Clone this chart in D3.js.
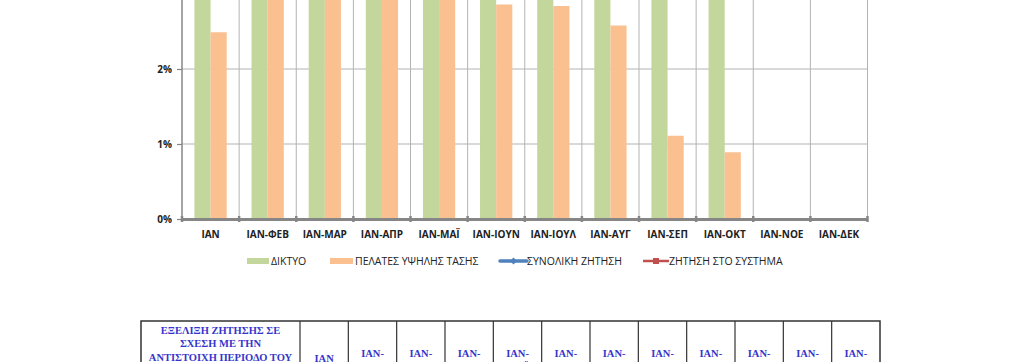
<!DOCTYPE html>
<html>
<head>
<meta charset="utf-8">
<script src="https://cdn.jsdelivr.net/npm/d3@7"></script>
<style>
  body { margin: 0; background: #fff; }
  svg { display: block; }
</style>
</head>
<body>
<svg id="chart"></svg>
<script>
const width = 1024;
const height = 362;

// categories and series (percent change vs same period of previous year)
const months = ["IAN", "IAN-ΦΕΒ", "IAN-ΜΑΡ", "IAN-ΑΠΡ", "IAN-ΜΑΪ", "IAN-ΙΟΥΝ",
    "IAN-ΙΟΥΛ", "IAN-ΑΥΓ", "IAN-ΣΕΠ", "IAN-ΟΚΤ", "IAN-ΝΟΕ", "IAN-ΔΕΚ"];
// green bars run past the top edge of the picture, only a floor can be read
const diktyo = [3.6, 3.5, 3.5, 3.4, 3.4, 3.3, 3.3, 3.2, 3.1, 3.0, null, null];
const ypsilisTasis = [2.49, 3.1, 3.1, 3.0, 3.0, 2.86, 2.84, 2.58, 1.11, 0.89, null, null];
// line series are outside the visible area
const synolikiZitisi = [3.5, 3.4, 3.4, 3.3, 3.3, 3.2, 3.2, 3.1, 3.0, 2.95, null, null];
const zitisiSystima = [3.7, 3.6, 3.6, 3.5, 3.5, 3.4, 3.4, 3.3, 3.2, 3.1, null, null];
const yTicks = [0, 1, 2];
const legendNames = ["ΔΙΚΤΥΟ", "ΠΕΛΑΤΕΣ ΥΨΗΛΗΣ ΤΑΣΗΣ", "ΣΥΝΟΛΙΚΗ ΖΗΤΗΣΗ", "ΖΗΤΗΣΗ ΣΤΟ ΣΥΣΤΗΜΑ"];
const tableTitle = ["ΕΞΕΛΙΞΗ ΖΗΤΗΣΗΣ ΣΕ", "ΣΧΕΣΗ ΜΕ ΤΗΝ", "ΑΝΤΙΣΤΟΙΧΗ ΠΕΡΙΟΔΟ ΤΟΥ"];

const green = "#c3d69b";
const orange = "#fac090";

const svg = d3.select("#chart")
    .attr("width", width)
    .attr("height", height);

// scales
const x = d3.scaleBand()
    .domain(months)
    .range([182, 867.5]);

const x1 = d3.scaleBand()
    .domain(["d", "y"])
    .range([0, x.bandwidth()])
    .paddingOuter(0.77);

const y = d3.scaleLinear()
    .domain([0, 1])
    .range([219, 144]);

// gridlines
svg.append("g")
    .selectAll("line")
    .data(yTicks.filter(d => d > 0))
    .enter()
    .append("line")
    .attr("x1", 182)
    .attr("x2", 867.5)
    .attr("y1", d => y(d))
    .attr("y2", d => y(d))
    .attr("stroke", "#b3b3b3")
    .attr("stroke-width", 1);

svg.append("g")
    .selectAll("line")
    .data(months)
    .enter()
    .append("line")
    .attr("x1", d => x(d) + x.bandwidth())
    .attr("x2", d => x(d) + x.bandwidth())
    .attr("y1", 0)
    .attr("y2", y(0))
    .attr("stroke", "#b3b3b3")
    .attr("stroke-width", 1);

// bars
const groups = svg.append("g")
    .selectAll("g")
    .data(months.map((m, i) => ({ m, d: diktyo[i], y: ypsilisTasis[i] })))
    .enter()
    .append("g")
    .attr("transform", d => `translate(${x(d.m)},0)`);

groups.filter(d => d.d != null)
    .append("rect")
    .attr("x", x1("d"))
    .attr("width", x1.bandwidth())
    .attr("y", d => y(d.d))
    .attr("height", d => y(0) - y(d.d))
    .attr("fill", green);

groups.filter(d => d.y != null)
    .append("rect")
    .attr("x", x1("y"))
    .attr("width", x1.bandwidth())
    .attr("y", d => y(d.y))
    .attr("height", d => y(0) - y(d.y))
    .attr("fill", orange);

// lines (above the visible window)
const line = d3.line()
    .defined(d => d.v != null)
    .x(d => x(d.m) + x.bandwidth() / 2)
    .y(d => y(d.v));

svg.append("path")
    .datum(months.map((m, i) => ({ m, v: synolikiZitisi[i] })))
    .attr("d", line)
    .attr("fill", "none")
    .attr("stroke", "#4f81bd")
    .attr("stroke-width", 2.5);

svg.append("path")
    .datum(months.map((m, i) => ({ m, v: zitisiSystima[i] })))
    .attr("d", line)
    .attr("fill", "none")
    .attr("stroke", "#c0504d")
    .attr("stroke-width", 2.5);

// y axis
const yAxis = svg.append("g")
    .attr("transform", "translate(182,0)")
    .call(d3.axisLeft(y).tickValues(yTicks).tickFormat(d => d + "%").tickSize(5).tickPadding(5));
yAxis.select(".domain").attr("d", `M0,0V${y(0)}`).attr("stroke", "#868686").attr("stroke-width", 1.5);
yAxis.selectAll(".tick line").attr("stroke", "#868686").attr("stroke-width", 1.2);
yAxis.selectAll(".tick text")
    .attr("font-family", "'Open Sans', sans-serif")
    .attr("font-size", 10)
    .attr("font-weight", "bold")
    .attr("fill", "#222");

// x axis
const xAxis = svg.append("g")
    .attr("transform", `translate(0,${y(0)})`)
    .call(d3.axisBottom(x).tickSize(0).tickPadding(12));
xAxis.select(".domain").attr("stroke", "#868686").attr("stroke-width", 3);
xAxis.selectAll(".tick text")
    .attr("font-family", "'Open Sans', sans-serif")
    .attr("font-size", 10)
    .attr("font-weight", "bold")
    .attr("fill", "#222");

// cross tick marks at the band edges
svg.append("g")
    .selectAll("line")
    .data([182].concat(months.map(m => x(m) + x.bandwidth())))
    .enter()
    .append("line")
    .attr("x1", d => d)
    .attr("x2", d => d)
    .attr("y1", y(0) - 3)
    .attr("y2", y(0) + 3)
    .attr("stroke", "#868686")
    .attr("stroke-width", 2.5);

// legend
const legendX = [247, 330, 500, 643];
const legend = svg.append("g")
    .attr("font-family", "'Liberation Sans Narrow', 'Open Sans', sans-serif")
    .attr("font-size", 10.5)
    .attr("fill", "#222");

legend.append("rect").attr("x", legendX[0]).attr("y", 258).attr("width", 22).attr("height", 6).attr("fill", green);
legend.append("rect").attr("x", legendX[1]).attr("y", 258).attr("width", 23).attr("height", 6).attr("fill", orange);
legend.append("line").attr("x1", legendX[2]).attr("x2", legendX[2] + 27).attr("y1", 261).attr("y2", 261)
    .attr("stroke", "#4f81bd").attr("stroke-width", 3.5).attr("stroke-linecap", "round");
legend.append("path").attr("d", `M${legendX[2] + 10},261l3.5,-3.5l3.5,3.5l-3.5,3.5z`).attr("fill", "#4f81bd");
legend.append("line").attr("x1", legendX[3]).attr("x2", legendX[3] + 26).attr("y1", 261).attr("y2", 261)
    .attr("stroke", "#c0504d").attr("stroke-width", 2.5);
legend.append("rect").attr("x", legendX[3] + 10).attr("y", 258).attr("width", 6).attr("height", 6).attr("fill", "#c0504d");

const legendTextX = [271, 355, 527, 669];
legend.selectAll("text")
    .data(legendNames)
    .enter()
    .append("text")
    .attr("x", (d, i) => legendTextX[i])
    .attr("y", 264.5)
    .text(d => d);

// table below the chart
const tableLeft = 141;
const tableTop = 321;
const col0 = 300;
const colW = (880 - col0) / months.length;
const tbl = svg.append("g");

tbl.append("rect")
    .attr("x", tableLeft)
    .attr("y", tableTop)
    .attr("width", 880 - tableLeft)
    .attr("height", 80)
    .attr("fill", "none")
    .attr("stroke", "#333")
    .attr("stroke-width", 1.5);

tbl.selectAll("line.col")
    .data(months)
    .enter()
    .append("line")
    .attr("class", "col")
    .attr("x1", (d, i) => col0 + i * colW)
    .attr("x2", (d, i) => col0 + i * colW)
    .attr("y1", tableTop)
    .attr("y2", height)
    .attr("stroke", "#333")
    .attr("stroke-width", 1.2);

const tblText = tbl.append("g")
    .attr("font-family", "'Liberation Serif', serif")
    .attr("font-weight", "bold")
    .attr("font-size", 10.5)
    .attr("fill", "#3535cc")
    .attr("text-anchor", "middle");

tblText.selectAll("text.title")
    .data(tableTitle)
    .enter()
    .append("text")
    .attr("class", "title")
    .attr("x", (tableLeft + col0) / 2)
    .attr("y", (d, i) => 333.5 + i * 13.5)
    .text(d => d);

months.forEach((m, i) => {
    const cx = col0 + (i + 0.5) * colW;
    const parts = m.includes("-") ? [m.split("-")[0] + "-", m.split("-")[1]] : [m];
    const startY = parts.length === 1 ? 362 : 356.5;
    parts.forEach((p, j) => {
        tblText.append("text")
            .attr("x", cx)
            .attr("y", startY + j * 13.5)
            .text(p);
    });
});
</script>
</body>
</html>
